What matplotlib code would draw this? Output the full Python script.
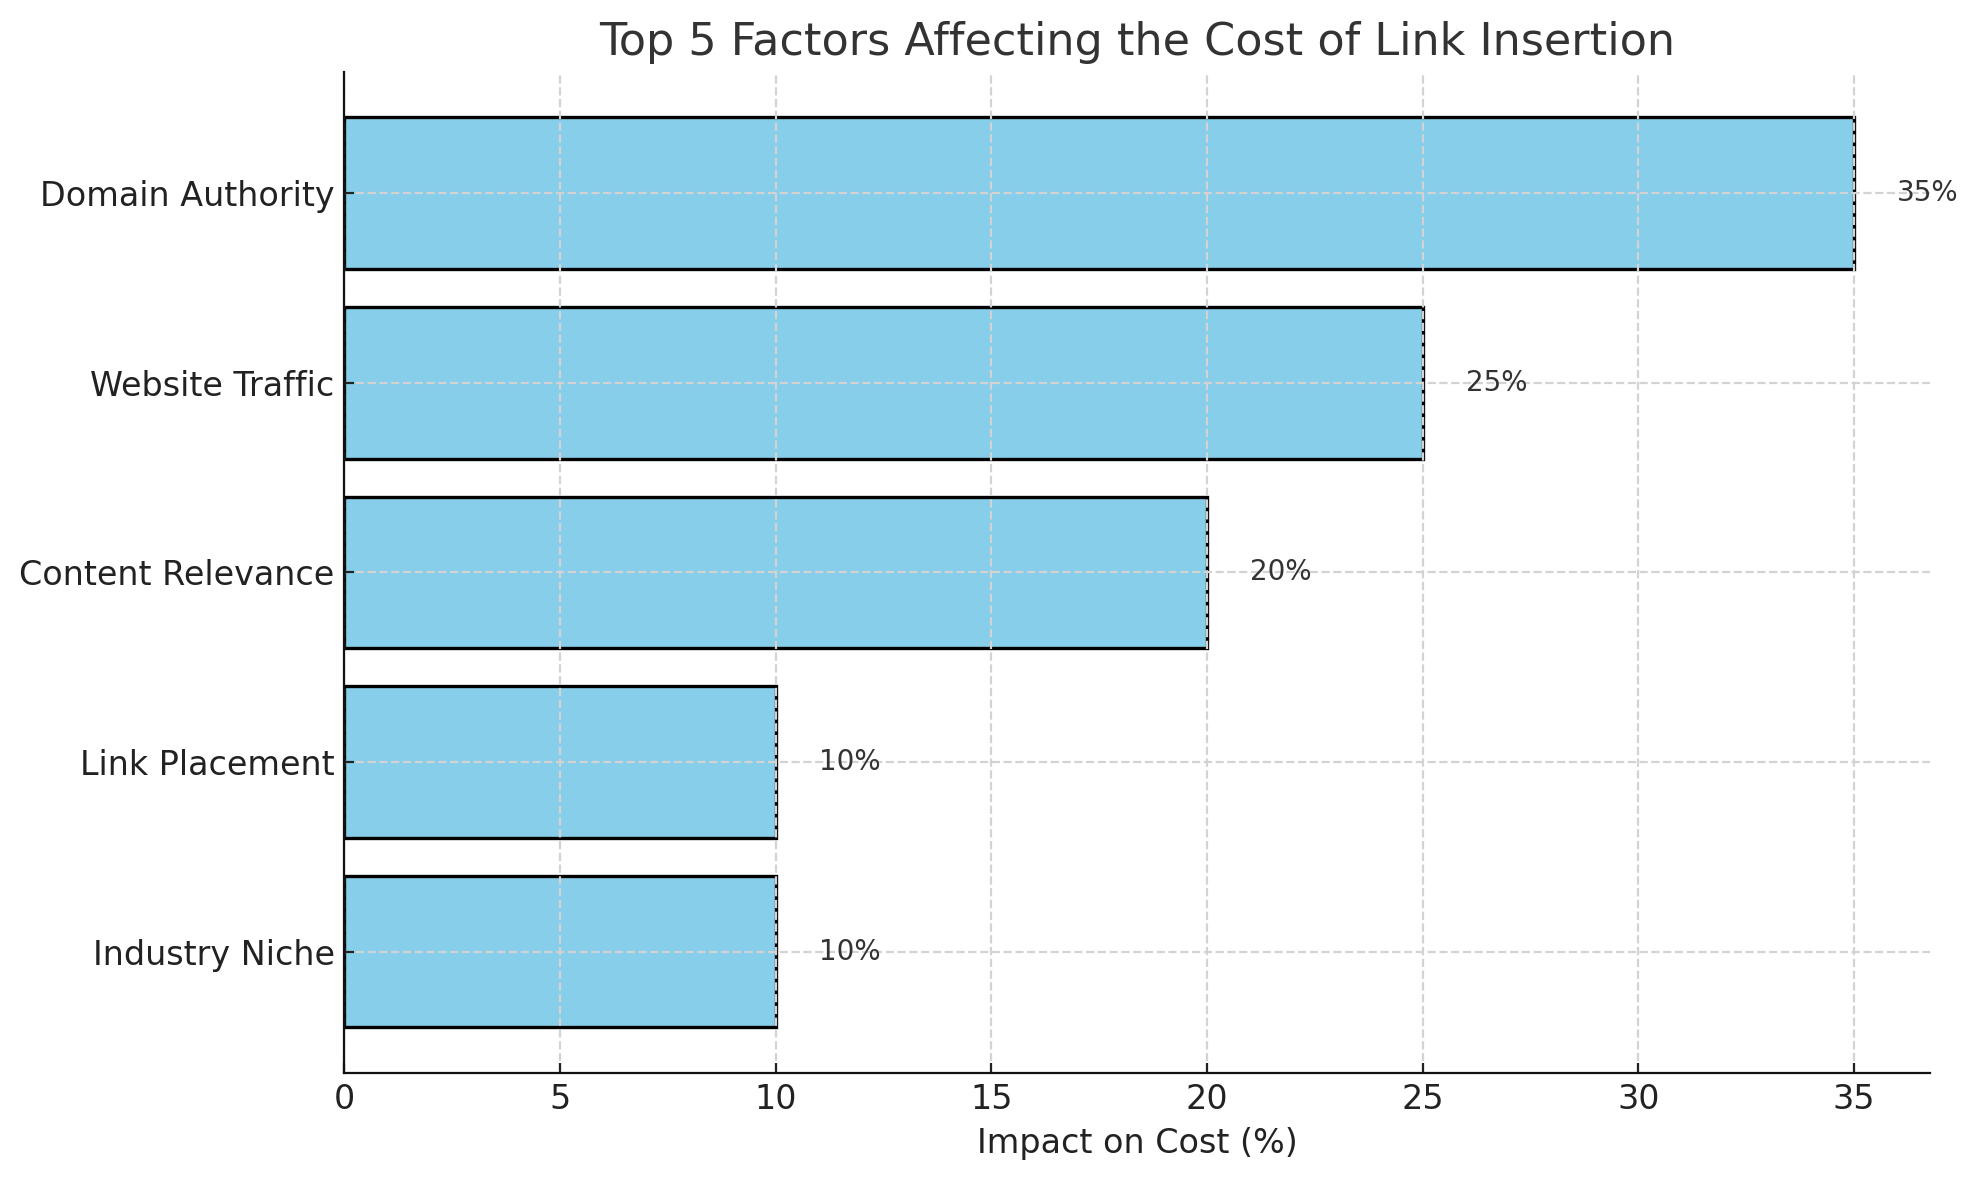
import matplotlib
matplotlib.use("Agg")
import matplotlib.pyplot as plt

factors = ["Domain Authority", "Website Traffic", "Content Relevance", "Link Placement", "Industry Niche"]
impact = [35, 25, 20, 10, 10]

fig, ax = plt.subplots(figsize=(9.895, 5.9), dpi=200)
fig.subplots_adjust(left=0.174, right=0.975, top=0.939, bottom=0.0907)

bars = ax.barh(factors, impact, color="skyblue", edgecolor="black", linewidth=1.2)
ax.invert_yaxis()

for b, v in zip(bars, impact):
    ax.text(v + 1, b.get_y() + b.get_height() / 2, f"{v}%", va="center", ha="left",
            fontsize=10, color="#333333")

ax.set_title("Top 5 Factors Affecting the Cost of Link Insertion", fontsize=16, color="#333333")
ax.set_xlabel("Impact on Cost (%)", fontsize=12, color="#222222")
ax.tick_params(axis="both", labelsize=12, colors="#222222", direction="in")
ax.grid(True, linestyle="--", color="lightgray", linewidth=0.8)
ax.set_axisbelow(False)
ax.spines["top"].set_visible(False)
ax.spines["right"].set_visible(False)
for s in ("left", "bottom"):
    ax.spines[s].set_zorder(5)
    ax.spines[s].set_color("#111111")

fig.savefig("out.png", dpi=200)
